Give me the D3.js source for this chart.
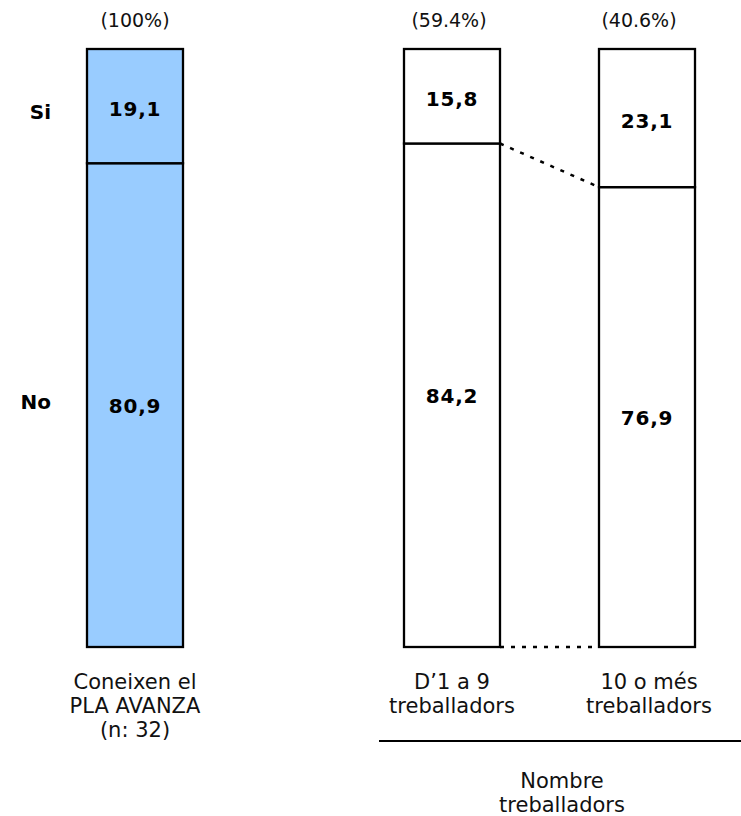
<!DOCTYPE html>
<html>
<head>
<meta charset="utf-8">
<script src="https://cdn.jsdelivr.net/npm/d3@7"></script>
<style>
  html, body { margin: 0; padding: 0; background: #fff; }
  svg { display: block; font-family: "DejaVu Sans", Verdana, sans-serif; }
</style>
</head>
<body>
<svg id="chart" width="741" height="816"></svg>
<script>
// ---- data ----
const categories = ["total", "small", "large"];
const categoryLabels = [["Coneixen el", "PLA AVANZA", "(n: 32)"], ["D\u20191 a 9", "treballadors"], ["10 o més", "treballadors"]];
const shareLabels = ["(100%)", "(59.4%)", "(40.6%)"];
const seriesNames = ["Si", "No"];
const siValues = [19.1, 15.8, 23.1];
const noValues = [80.9, 84.2, 76.9];
const groupTitle = ["Nombre", "treballadors"];

// ---- layout ----
const svg = d3.select("#chart");
const barW = 96;
const x = d3.scaleOrdinal().domain(categories).range([135, 452, 647]);
const y = d3.scaleLinear().domain([0, 100]).range([647, 49]);
const fills = ["#99ccff", "#ffffff", "#ffffff"];

const rows = categories.map((c, i) => ({ c, i, si: siValues[i], no: noValues[i] }));

// dotted connectors between second and third bar
const b2 = rows[1], b3 = rows[2];
svg.append("line")
  .attr("x1", x(b2.c) + barW / 2).attr("y1", y(b2.no))
  .attr("x2", x(b3.c) - barW / 2).attr("y2", y(b3.no))
  .attr("stroke", "#000").attr("stroke-width", 2.5).attr("stroke-dasharray", "4,7");
svg.append("line")
  .attr("x1", x(b2.c) + barW / 2).attr("y1", y(0))
  .attr("x2", x(b3.c) - barW / 2).attr("y2", y(0))
  .attr("stroke", "#000").attr("stroke-width", 2.5).attr("stroke-dasharray", "4,7");

const g = svg.selectAll("g.bar").data(rows).join("g").attr("class", "bar");

// No segment (bottom)
g.append("rect")
  .attr("x", d => x(d.c) - barW / 2)
  .attr("y", d => y(d.no))
  .attr("width", barW)
  .attr("height", d => y(0) - y(d.no))
  .attr("fill", d => fills[d.i]).attr("stroke", "#000").attr("stroke-width", 2.3);
// Si segment (top)
g.append("rect")
  .attr("x", d => x(d.c) - barW / 2)
  .attr("y", d => y(d.no + d.si))
  .attr("width", barW)
  .attr("height", d => y(d.no) - y(d.no + d.si))
  .attr("fill", d => fills[d.i]).attr("stroke", "#000").attr("stroke-width", 2.3);

const fmt = v => d3.format(".1f")(v).replace(".", ",");

// value labels
g.append("text")
  .attr("x", d => x(d.c))
  .attr("y", d => (y(d.no) + y(d.no + d.si)) / 2 + 10)
  .attr("text-anchor", "middle").attr("font-weight", "bold").attr("font-size", 20)
  .attr("letter-spacing", 0.8)
  .text(d => fmt(d.si));
g.append("text")
  .attr("x", d => x(d.c))
  .attr("y", d => (y(0) + y(d.no)) / 2 + 8)
  .attr("text-anchor", "middle").attr("font-weight", "bold").attr("font-size", 20)
  .attr("letter-spacing", 0.8)
  .text(d => fmt(d.no));

// share labels on top
g.append("text")
  .attr("x", d => x(d.c) - (d.i === 2 ? 8 : d.i === 1 ? 3 : 0))
  .attr("y", 27)
  .attr("text-anchor", "middle").attr("font-size", 19).attr("fill", "#111")
  .text(d => shareLabels[d.i]);

// category labels
g.append("text")
  .attr("text-anchor", "middle").attr("font-size", 21).attr("fill", "#111")
  .selectAll("tspan").data(d => categoryLabels[d.i].map(t => ({ t, c: d.c, i: d.i })))
  .join("tspan")
  .attr("x", d => x(d.c) + (d.i === 2 ? 2 : 0))
  .attr("y", (d, j) => 689 + j * 24)
  .text(d => d.t);

// series labels on the left
const row0 = rows[0];
svg.append("text")
  .attr("x", 51).attr("y", (y(row0.no) + y(100)) / 2 + 13)
  .attr("text-anchor", "end").attr("font-weight", "bold").attr("font-size", 20)
  .text(seriesNames[0]);
svg.append("text")
  .attr("x", 51).attr("y", (y(0) + y(row0.no)) / 2 + 4)
  .attr("text-anchor", "end").attr("font-weight", "bold").attr("font-size", 20)
  .text(seriesNames[1]);

// group separator and title
svg.append("line")
  .attr("x1", 379).attr("x2", 741).attr("y1", 741).attr("y2", 741)
  .attr("stroke", "#000").attr("stroke-width", 2);
svg.append("text")
  .attr("text-anchor", "middle").attr("font-size", 21).attr("fill", "#111")
  .selectAll("tspan").data(groupTitle).join("tspan")
  .attr("x", 562).attr("y", (d, j) => 788 + j * 24)
  .text(d => d);
</script>
</body>
</html>
